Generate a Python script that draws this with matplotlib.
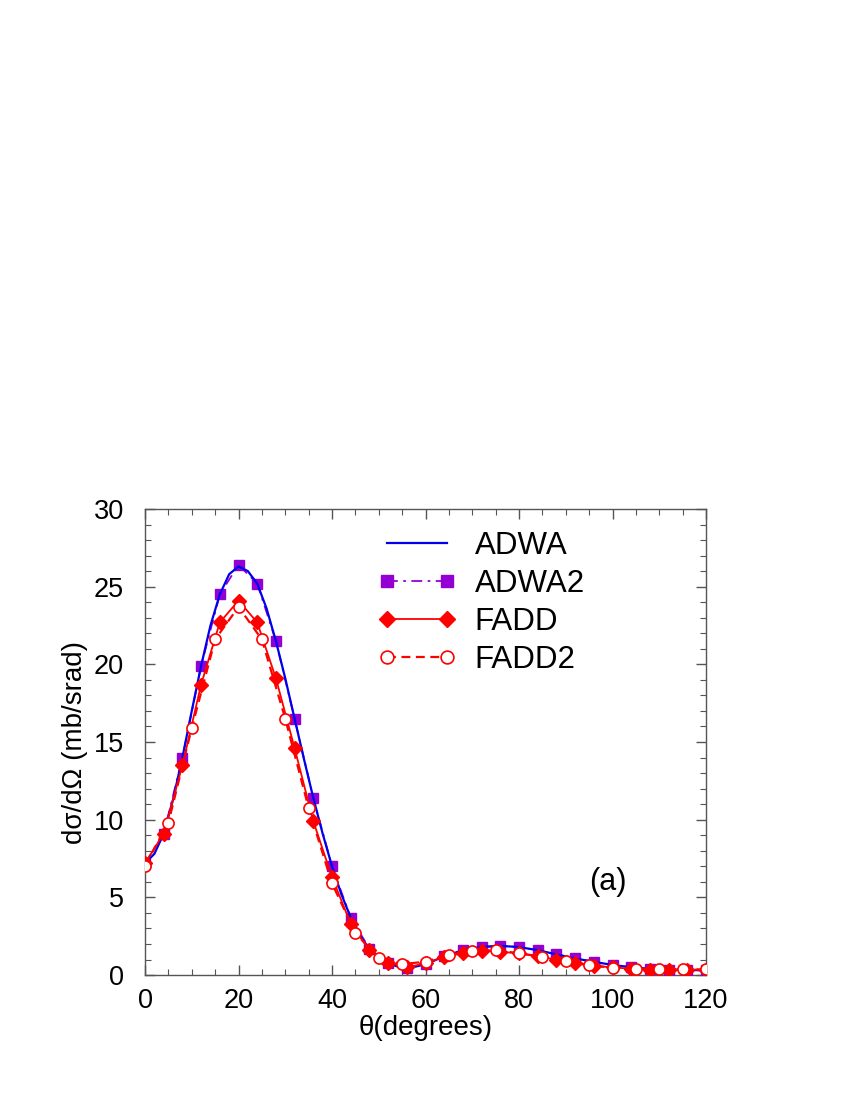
import numpy as np
import matplotlib
matplotlib.use("Agg")
import matplotlib.pyplot as plt
from matplotlib.ticker import MultipleLocator

plt.rcParams['font.family'] = ['Liberation Sans', 'DejaVu Sans']

# ADWA (smooth curve) read every 2 degrees up to 60, then every 4
theta_adwa = [0, 2, 4, 6, 8, 10, 12, 14, 16, 18, 20, 22, 24, 26, 28, 30, 32, 34, 36, 38,
              40, 42, 44, 46, 48, 50, 52, 54, 56, 58, 60,
              64, 68, 72, 76, 80, 84, 88, 92, 96, 100, 104, 108, 112, 116, 120]
adwa = [7.2, 7.8, 9.1, 11.3, 14.0, 17.0, 19.9, 22.5, 24.5, 25.8, 26.3, 26.0, 25.2, 23.6,
        21.5, 19.1, 16.5, 13.9, 11.4, 9.1, 7.0, 5.2, 3.7, 2.5, 1.7, 1.1, 0.75, 0.55, 0.45,
        0.55, 0.7, 1.2, 1.6, 1.8, 1.88, 1.8, 1.6, 1.33, 1.07, 0.85, 0.65, 0.5, 0.4, 0.35,
        0.33, 0.3]

# ADWA2 / FADD sampled every 4 degrees
theta4 = [0, 4, 8, 12, 16, 20, 24, 28, 32, 36, 40, 44, 48, 52, 56, 60,
          64, 68, 72, 76, 80, 84, 88, 92, 96, 100, 104, 108, 112, 116, 120]
adwa2 = [7.2, 9.1, 14.0, 19.9, 24.5, 26.4, 25.2, 21.5, 16.5, 11.4, 7.0, 3.7, 1.7, 0.75, 0.45, 0.7,
         1.2, 1.6, 1.82, 1.88, 1.8, 1.6, 1.33, 1.07, 0.85, 0.65, 0.5, 0.4, 0.35, 0.33, 0.3]
fadd = [7.2, 9.1, 13.5, 18.7, 22.7, 24.1, 22.7, 19.1, 14.6, 9.9, 6.3, 3.3, 1.6, 0.8, 0.5, 0.75,
        1.18, 1.4, 1.57, 1.5, 1.4, 1.2, 1.0, 0.75, 0.58, 0.5, 0.4, 0.35, 0.35, 0.35, 0.35]

# FADD2 sampled every 5 degrees
theta5 = [0, 5, 10, 15, 20, 25, 30, 35, 40, 45, 50, 55, 60, 65, 70, 75, 80, 85, 90,
          95, 100, 105, 110, 115, 120]
fadd2 = [7.05, 9.8, 15.9, 21.6, 23.7, 21.6, 16.5, 10.75, 5.9, 2.7, 1.1, 0.7, 0.86, 1.29, 1.55,
         1.6, 1.4, 1.18, 0.9, 0.64, 0.47, 0.4, 0.37, 0.36, 0.36]

fig = plt.figure(figsize=(8.5, 11), dpi=100)
ax = fig.add_axes([0.1706, 0.1136, 0.66, 0.4237])

ax.plot(theta_adwa, adwa, color='#0000ee', lw=1.6, label='ADWA', zorder=4)
ax.plot(theta4, adwa2, color='#9400d3', lw=1.3, ls=(0, (6, 3, 1.5, 3)),
        marker='s', ms=7, mec='#9400d3', mfc='#9400d3', label='ADWA2', zorder=3)
ax.plot(theta4, fadd, color='red', lw=1.3, marker='D', ms=7.5,
        mfc='red', mec='red', label='FADD', zorder=5)
ax.plot(theta5, fadd2, color='red', lw=1.6, ls=(0, (4, 2.5)), marker='o', ms=8,
        mfc='white', mec='red', mew=1.2, label='FADD2', zorder=6)

ax.set_xlim(0, 120)
ax.set_ylim(0, 30)
ax.xaxis.set_major_locator(MultipleLocator(20))
ax.xaxis.set_minor_locator(MultipleLocator(5))
ax.yaxis.set_major_locator(MultipleLocator(5))
ax.yaxis.set_minor_locator(MultipleLocator(1))
ax.tick_params(which='both', direction='in', top=True, right=True, color='#555555')
ax.tick_params(which='major', length=7, width=1)
ax.tick_params(which='minor', length=4, width=0.8)
ax.tick_params(axis='x', labelsize=19.5, pad=9)
ax.tick_params(axis='y', labelsize=19.5, pad=15)
for s in ax.spines.values():
    s.set_color('#555555')
    s.set_linewidth(1.0)

ax.set_xlabel('θ(degrees)', fontsize=20, labelpad=1)
ax.set_ylabel('dσ/dΩ (mb/srad)', fontsize=20, labelpad=4)
ax.text(99, 6, '(a)', fontsize=22, ha='center', va='center')

leg = ax.legend(loc='upper left', bbox_to_anchor=(0.393, 0.98), frameon=False,
                fontsize=22.5, handlelength=2.5, handletextpad=0.6, labelspacing=0.26,
                borderaxespad=0, numpoints=2, markerscale=1.15)

fig.savefig('out.png', dpi=100)
